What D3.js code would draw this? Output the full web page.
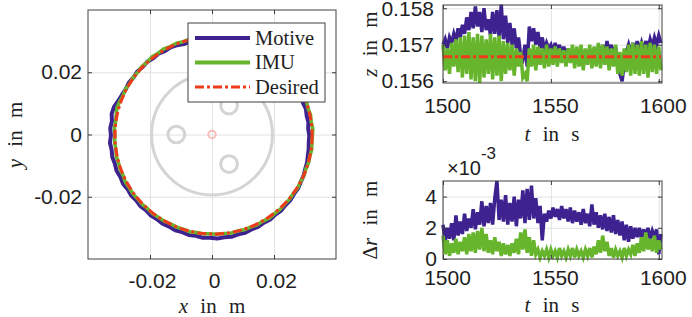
<!DOCTYPE html>
<html>
<head>
<meta charset="utf-8">
<script src="https://cdn.jsdelivr.net/npm/d3@7"></script>
<style>
  body { margin: 0; background: #fff; }
  text { fill: #1e1e1e; }
  .tick text { font-family: "Liberation Sans", Arial, sans-serif; font-size: 21px; }
  .lbl { font-family: "Liberation Serif", "Times New Roman", serif; font-size: 21px; word-spacing: 7px; }
</style>
</head>
<body>
<svg id="chart" width="692" height="317"></svg>
<script>
// ---------- data ----------
// circle trajectory, sampled every 4 deg (counter-clockwise from +x), radius in m
const circleAnglesDeg = d3.range(0, 360, 4);
const motiveR = [
  0.0309, 0.0306, 0.0309, 0.0307, 0.0310, 0.0307, 0.0310, 0.0308, 0.0311, 0.0313,
  0.0314, 0.0313, 0.0315, 0.0314, 0.0315, 0.0314, 0.0315, 0.0314, 0.0315, 0.0314,
  0.0314, 0.0313, 0.0312, 0.0310, 0.0312, 0.0309, 0.0312, 0.0310, 0.0314, 0.0316,
  0.0314, 0.0318, 0.0316, 0.0320, 0.0318, 0.0321, 0.0319, 0.0322, 0.0320, 0.0323,
  0.0327, 0.0334, 0.0336, 0.0331, 0.0334, 0.0331, 0.0335, 0.0332, 0.0334, 0.0331,
  0.0333, 0.0329, 0.0331, 0.0327, 0.0329, 0.0326, 0.0328, 0.0325, 0.0328, 0.0326,
  0.0329, 0.0327, 0.0330, 0.0328, 0.0331, 0.0329, 0.0332, 0.0330, 0.0333, 0.0330,
  0.0332, 0.0329, 0.0330, 0.0327, 0.0328, 0.0325, 0.0327, 0.0324, 0.0326, 0.0323,
  0.0324, 0.0321, 0.0322, 0.0319, 0.0318, 0.0315, 0.0314, 0.0311, 0.0310, 0.0308
];
const imuR = [
  0.0319, 0.0321, 0.0318, 0.0320, 0.0317, 0.0319, 0.0318, 0.0320, 0.0318, 0.0319,
  0.0318, 0.0319, 0.0318, 0.0319, 0.0318, 0.0319, 0.0318, 0.0319, 0.0318, 0.0319,
  0.0318, 0.0319, 0.0318, 0.0317, 0.0319, 0.0317, 0.0320, 0.0318, 0.0321, 0.0319,
  0.0322, 0.0320, 0.0322, 0.0319, 0.0321, 0.0318, 0.0320, 0.0318, 0.0321, 0.0319,
  0.0322, 0.0324, 0.0321, 0.0319, 0.0321, 0.0318, 0.0320, 0.0318, 0.0321, 0.0319,
  0.0321, 0.0319, 0.0322, 0.0320, 0.0321, 0.0319, 0.0320, 0.0318, 0.0320, 0.0318,
  0.0319, 0.0317, 0.0319, 0.0318, 0.0320, 0.0318, 0.0319, 0.0317, 0.0319, 0.0318,
  0.0320, 0.0318, 0.0320, 0.0319, 0.0321, 0.0319, 0.0322, 0.0320, 0.0321, 0.0319,
  0.0320, 0.0318, 0.0320, 0.0318, 0.0319, 0.0317, 0.0319, 0.0318, 0.0320, 0.0318
];
const circleCenter = [0.0005, -0.0003];
const desiredR = 0.0318;
// background plate sketch: [x, y, r] in m
const plateRings = [[0, 0, 0.0195], [-0.0115, 0, 0.0027], [0.0055, 0.0093, 0.0027], [0.0055, -0.0095, 0.0027]];
const plateCenter = [0, 0, 0.0012];

// time series, 1 s samples
const timeS = d3.range(1500, 1602, 1);
const motiveZ = [
  0.15700, 0.15715, 0.15690, 0.15720, 0.15705, 0.15730, 0.15710, 0.15745, 0.15720, 0.15755,
  0.15730, 0.15775, 0.15740, 0.15790, 0.15745, 0.15805, 0.15750, 0.15790, 0.15735, 0.15800,
  0.15740, 0.15770, 0.15725, 0.15790, 0.15730, 0.15795, 0.15720, 0.15810, 0.15715, 0.15780,
  0.15705, 0.15760, 0.15700, 0.15745, 0.15690, 0.15720, 0.15670, 0.15660, 0.15700, 0.15640,
  0.15750, 0.15710, 0.15745, 0.15700, 0.15735, 0.15690, 0.15720, 0.15685, 0.15705, 0.15690,
  0.15700, 0.15680, 0.15705, 0.15675, 0.15700, 0.15670, 0.15695, 0.15665, 0.15690, 0.15660,
  0.15685, 0.15650, 0.15675, 0.15645, 0.15670, 0.15650, 0.15680, 0.15655, 0.15685, 0.15660,
  0.15690, 0.15665, 0.15695, 0.15670, 0.15700, 0.15665, 0.15710, 0.15675, 0.15700, 0.15670,
  0.15695, 0.15640, 0.15620, 0.15600, 0.15650, 0.15680, 0.15700, 0.15675, 0.15705, 0.15680,
  0.15710, 0.15685, 0.15705, 0.15680, 0.15710, 0.15690, 0.15715, 0.15695, 0.15720, 0.15700,
  0.15725, 0.15705
];
const imuZ = [
  0.15700, 0.15630, 0.15690, 0.15620, 0.15705, 0.15640, 0.15715, 0.15625, 0.15720, 0.15610,
  0.15725, 0.15620, 0.15735, 0.15605, 0.15720, 0.15600, 0.15730, 0.15595, 0.15725, 0.15610,
  0.15715, 0.15620, 0.15730, 0.15605, 0.15720, 0.15615, 0.15725, 0.15600, 0.15710, 0.15620,
  0.15705, 0.15630, 0.15700, 0.15615, 0.15690, 0.15640, 0.15680, 0.15610, 0.15620, 0.15600,
  0.15690, 0.15640, 0.15700, 0.15630, 0.15695, 0.15645, 0.15690, 0.15635, 0.15700, 0.15640,
  0.15690, 0.15645, 0.15695, 0.15640, 0.15690, 0.15650, 0.15685, 0.15640, 0.15690, 0.15650,
  0.15700, 0.15635, 0.15695, 0.15640, 0.15700, 0.15630, 0.15690, 0.15645, 0.15700, 0.15635,
  0.15695, 0.15640, 0.15705, 0.15635, 0.15700, 0.15645, 0.15695, 0.15630, 0.15690, 0.15640,
  0.15700, 0.15620, 0.15680, 0.15615, 0.15690, 0.15625, 0.15700, 0.15615, 0.15705, 0.15620,
  0.15700, 0.15615, 0.15710, 0.15620, 0.15700, 0.15610, 0.15705, 0.15625, 0.15700, 0.15620,
  0.15695, 0.15630
];
const desiredT = [1500, 1601];
const desiredZ = [0.15667, 0.15667];
// radial error in 1e-3 m
const motiveDr = [
  2.2, 1.1, 2.0, 1.3, 2.3, 1.2, 2.8, 1.5, 2.4, 1.6,
  2.9, 1.8, 2.6, 2.0, 3.2, 1.9, 3.0, 2.2, 3.7, 2.1,
  3.4, 2.3, 3.6, 2.2, 3.9, 5.0, 2.5, 3.8, 2.4, 4.1,
  2.2, 3.6, 2.4, 4.0, 2.1, 3.8, 2.6, 4.4, 2.3, 4.5,
  2.5, 4.7, 2.6, 3.9, 2.3, 3.4, 1.2, 2.9, 2.4, 3.1,
  2.6, 3.3, 2.7, 3.2, 2.5, 3.4, 2.6, 3.2, 2.4, 3.3,
  2.3, 3.1, 2.4, 3.0, 2.2, 3.2, 2.3, 2.9, 2.1, 3.5,
  2.2, 3.0, 2.0, 2.8, 1.9, 2.9, 1.8, 2.7, 1.7, 2.8,
  1.6, 2.5, 1.5, 2.4, 1.2, 2.2, 1.1, 2.1, 1.3, 2.0,
  1.4, 2.0, 1.3, 1.9, 1.4, 2.0, 1.3, 1.8, 1.4, 1.9,
  0.3, 1.6
];
const imuDr = [
  1.5, 0.3, 1.2, 0.2, 1.0, 0.4, 1.3, 0.3, 1.1, 0.5,
  1.4, 0.3, 1.6, 0.5, 1.7, 0.4, 1.8, 0.6, 2.0, 0.5,
  1.6, 0.4, 1.2, 0.3, 1.4, 0.5, 1.1, 0.2, 1.0, 0.3,
  0.9, 0.2, 1.0, 0.4, 1.3, 0.3, 1.7, 0.6, 1.9, 0.4,
  1.4, 0.2, 1.2, 0.3, 0.6, 0.1, 0.5, 0.2, 0.6, 0.1,
  0.6, 0.2, 0.5, 0.1, 0.7, 0.2, 0.5, 0.1, 0.6, 0.2,
  0.7, 0.1, 0.6, 0.2, 0.5, 0.1, 0.6, 0.2, 0.7, 0.1,
  0.8, 0.3, 1.2, 0.4, 1.5, 0.5, 1.1, 0.2, 0.7, 0.1,
  0.6, 0.2, 0.5, 0.1, 0.7, 0.2, 0.6, 0.3, 0.9, 0.2,
  1.0, 0.4, 1.4, 0.5, 1.7, 0.6, 1.3, 0.5, 1.5, 0.4,
  1.2, 0.6
];
const xyTicks = [-0.02, 0, 0.02];
const tTicks = [1500, 1550, 1600];
const zTicks = [0.156, 0.157, 0.158];
const drTicks = [0, 2, 4];
const seriesNames = ["Motive", "IMU", "Desired"];

const colors = { Motive: "#3d2290", IMU: "#66b52c", Desired: "#ef3a1c" };
const dash = "9,3,3,3";

const svg = d3.select("#chart");

// grid first; returns a function that draws inner ticks on all sides and the box
function frame(g, x, y, xt, yt, xfmt, yfmt, xpad, ypad, xshift) {
  const [x0, x1] = x.range(), [y0, y1] = y.range();
  g.append("g").attr("transform", `translate(0,${y0})`)
    .call(d3.axisBottom(x).tickValues(xt).tickSize(-(y0 - y1)).tickFormat(""))
    .call(a => a.select(".domain").remove())
    .selectAll("line").attr("stroke", "#e2e2e2");
  g.append("g").attr("transform", `translate(${x0},0)`)
    .call(d3.axisLeft(y).tickValues(yt).tickSize(-(x1 - x0)).tickFormat(""))
    .call(a => a.select(".domain").remove())
    .selectAll("line").attr("stroke", "#e2e2e2");
  return function () {
    const ax = [
      g.append("g").attr("transform", `translate(0,${y0})`)
        .call(d3.axisBottom(x).tickValues(xt).tickSize(-4).tickPadding(xpad).tickFormat(xfmt))
        .call(a => a.selectAll("text").attr("dx", xshift || 0)),
      g.append("g").attr("transform", `translate(0,${y1})`)
        .call(d3.axisTop(x).tickValues(xt).tickSize(-4).tickFormat("")),
      g.append("g").attr("transform", `translate(${x0},0)`)
        .call(d3.axisLeft(y).tickValues(yt).tickSize(-4).tickPadding(ypad).tickFormat(yfmt)),
      g.append("g").attr("transform", `translate(${x1},0)`)
        .call(d3.axisRight(y).tickValues(yt).tickSize(-4).tickFormat(""))
    ];
    ax.forEach(a => {
      a.select(".domain").remove();
      a.selectAll("line").attr("stroke", "#3a3a3a");
      a.selectAll("text").attr("fill", "#1e1e1e");
    });
    g.append("rect").attr("x", x0).attr("y", y1).attr("width", x1 - x0).attr("height", y0 - y1)
      .attr("fill", "none").attr("stroke", "#404040").attr("stroke-width", 1);
  };
}

function label(g, x, y, rot, parts) {
  const t = g.append("text").attr("class", "lbl").attr("text-anchor", "middle")
    .attr("transform", `translate(${x},${y}) rotate(${rot})`);
  parts.forEach(([s, it]) => t.append("tspan").attr("font-style", it ? "italic" : "normal").text(s));
}

// ---------- left: circle ----------
const xC = d3.scaleLinear().domain([-0.04, 0.04]).range([88, 336]);
const yC = d3.scaleLinear().domain([-0.04, 0.04]).range([259, 10]);
const rC = d3.scaleLinear().domain([0, 0.08]).range([0, 248]);
const gL = svg.append("g");
const boxL = frame(gL, xC, yC, xyTicks, xyTicks, d => String(d), d => String(d), 14, 6, 2);

gL.selectAll("circle.plate").data(plateRings).join("circle").attr("class", "plate")
  .attr("cx", d => xC(d[0])).attr("cy", d => yC(d[1])).attr("r", d => rC(d[2]))
  .attr("fill", "none").attr("stroke", "#d4d4d4").attr("stroke-width", 3);
gL.append("circle").attr("cx", xC(plateCenter[0])).attr("cy", yC(plateCenter[1])).attr("r", rC(plateCenter[2]))
  .attr("fill", "none").attr("stroke", "#f6bcbc").attr("stroke-width", 2);

const radial = d3.lineRadial()
  .angle((d, i) => Math.PI / 2 - circleAnglesDeg[i] * Math.PI / 180)
  .radius(d => rC(d))
  .curve(d3.curveLinearClosed);
const cg = gL.append("g").attr("transform", `translate(${xC(circleCenter[0])},${yC(circleCenter[1])})`);
cg.append("path").attr("d", radial(motiveR)).attr("fill", "none")
  .attr("stroke", colors.Motive).attr("stroke-width", 4).attr("stroke-linejoin", "round");
cg.append("path").attr("d", radial(imuR)).attr("fill", "none")
  .attr("stroke", colors.IMU).attr("stroke-width", 3.5).attr("stroke-linejoin", "round");
cg.append("circle").attr("r", rC(desiredR)).attr("fill", "none")
  .attr("stroke", colors.Desired).attr("stroke-width", 3).attr("stroke-dasharray", dash);
boxL();

// legend
const leg = gL.append("g");
leg.append("rect").attr("x", 188).attr("y", 23).attr("width", 137).attr("height", 79)
  .attr("fill", "#fff").attr("stroke", "#404040").attr("stroke-width", 1);
seriesNames.forEach((n, i) => {
  const yy = 38 + i * 24.5;
  leg.append("line").attr("x1", 195).attr("x2", 250).attr("y1", yy).attr("y2", yy)
    .attr("stroke", colors[n]).attr("stroke-width", n === "Desired" ? 3 : 4)
    .attr("stroke-dasharray", n === "Desired" ? dash : null);
  leg.append("text").attr("x", 255).attr("y", yy + 6.5)
    .attr("font-family", "'Liberation Serif', serif").attr("font-size", 20.5).text(n);
});
label(svg, 212, 313, 0, [["x", true], [" in m", false]]);
label(svg, 22, 135, -90, [["y", true], [" in m", false]]);

// ---------- right top: z ----------
const xT = d3.scaleLinear().domain([1500, 1601.5]).range([443, 662]);
const yZ = d3.scaleLinear().domain([0.15595, 0.15809]).range([83, 5]);
const gZ = svg.append("g");
const boxZ = frame(gZ, xT, yZ, tTicks, zTicks, d => String(d), d3.format(".3f"), 15, 9, 4);
const lineZ = d3.line().x((d, i) => xT(timeS[i])).y(d => yZ(d));
gZ.append("path").attr("d", lineZ(motiveZ)).attr("fill", "none").attr("stroke", colors.Motive).attr("stroke-width", 3.5);
gZ.append("path").attr("d", lineZ(imuZ)).attr("fill", "none").attr("stroke", colors.IMU).attr("stroke-width", 3.5);
const lineD = d3.line().x((d, i) => xT(desiredT[i])).y(d => yZ(d));
gZ.append("path").attr("d", lineD(desiredZ)).attr("fill", "none")
  .attr("stroke", colors.Desired).attr("stroke-width", 3).attr("stroke-dasharray", dash);
boxZ();
label(svg, 552, 141, 0, [["t", true], [" in s", false]]);
label(svg, 377, 44, -90, [["z", true], [" in m", false]]);

// ---------- right bottom: delta r ----------
const yR = d3.scaleLinear().domain([0, 5]).range([259, 181]);
const gR = svg.append("g");
const boxR = frame(gR, xT, yR, tTicks, drTicks, d => String(d), d => String(d), 11, 6, 4);
const lineR = d3.line().x((d, i) => xT(timeS[i])).y(d => yR(d));
gR.append("path").attr("d", lineR(motiveDr)).attr("fill", "none").attr("stroke", colors.Motive).attr("stroke-width", 3.5);
gR.append("path").attr("d", lineR(imuDr)).attr("fill", "none").attr("stroke", colors.IMU).attr("stroke-width", 3.5);
boxR();
const ex = svg.append("text").attr("x", 447).attr("y", 175)
  .attr("font-family", "'Liberation Sans', Arial, sans-serif").attr("font-size", 20);
ex.append("tspan").text("×10");
ex.append("tspan").attr("dy", -16).attr("font-size", 17).text("-3");
label(svg, 552, 312, 0, [["t", true], [" in s", false]]);
label(svg, 377, 220, -90, [["Δ", false], ["r", true], [" in m", false]]);
</script>
</body>
</html>
